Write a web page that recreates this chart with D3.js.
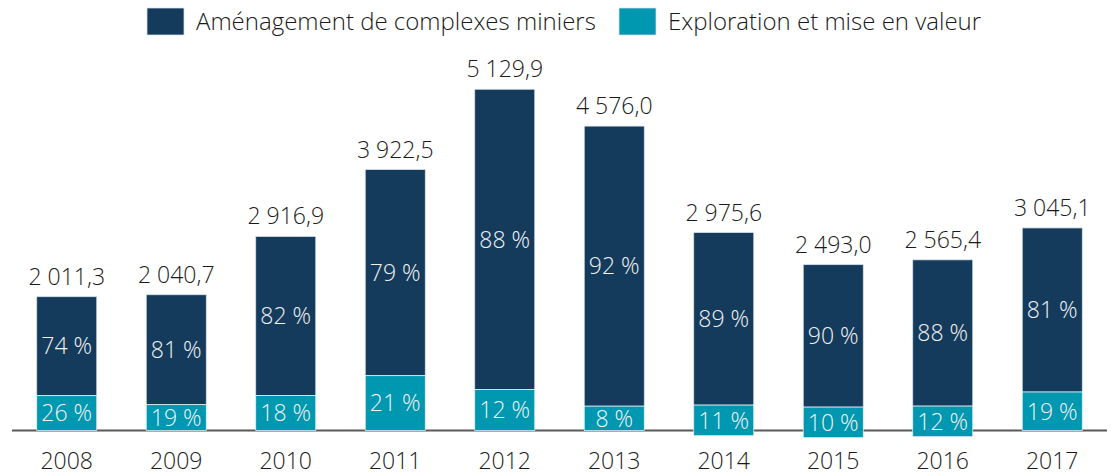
<!DOCTYPE html>
<html lang="fr">
<head>
<meta charset="utf-8">
<script src="https://cdn.jsdelivr.net/npm/d3@7"></script>
<style>
  html, body { margin: 0; padding: 0; background: #fff; }
  svg { display: block; font-family: 'Open Sans', sans-serif; font-weight: 300; }
</style>
</head>
<body>
<svg id="chart" width="1111" height="472"></svg>
<script>
const years = ['2008', '2009', '2010', '2011', '2012', '2013', '2014', '2015', '2016', '2017'];
const totals = [2011.3, 2040.7, 2916.9, 3922.5, 5129.9, 4576.0, 2975.6, 2493.0, 2565.4, 3045.1];
const pctDev = [74, 81, 82, 79, 88, 92, 89, 90, 88, 81];
const pctExplo = [26, 19, 18, 21, 12, 8, 11, 10, 12, 19];
// in the source picture the small exploration blocks were stretched below the axis (M$)
const exploDrawnFrom = [0, 0, 0, 0, 0, 0, -78, -108, -93, 0];
const exploMinDrawn = 460;
const seriesNames = ['Aménagement de complexes miniers', 'Exploration et mise en valeur'];

const darkBlue = '#143b5c',
      teal = '#0097b0';

const fr = d3.formatLocale({decimal: ',', thousands: ' ', grouping: [3], currency: ['', ' $']});
const fmt = fr.format(',.1f');

const svg = d3.select('#chart');

const x = d3.scaleBand()
  .domain(years)
  .range([12, 1107])
  .paddingInner(0.452)
  .paddingOuter(0.226);

const y = d3.scaleLinear()
  .domain([0, 5200])
  .range([430.5, 84.6]);

const rows = years.map((yr, i) => {
  const exploVal = totals[i] * pctExplo[i] / 100;
  const from = exploDrawnFrom[i];
  const to = from < 0 ? Math.max(exploVal, from + exploMinDrawn) : exploVal;
  return {year: yr, total: totals[i], dev: pctDev[i], explo: pctExplo[i], from, to};
});

// axis line
svg.append('line')
  .attr('x1', x.range()[0])
  .attr('x2', x.range()[1])
  .attr('y1', y(0))
  .attr('y2', y(0))
  .attr('stroke', '#595959')
  .attr('stroke-width', 2);

const bars = svg.append('g')
  .selectAll('g')
  .data(rows)
  .join('g');

bars.append('rect')
  .attr('x', d => x(d.year))
  .attr('width', x.bandwidth())
  .attr('y', d => y(d.total))
  .attr('height', d => y(d.to) - y(d.total))
  .attr('fill', darkBlue)
  .attr('stroke', '#d9e1ea')
  .attr('stroke-width', 0.75);

bars.append('rect')
  .attr('x', d => x(d.year))
  .attr('width', x.bandwidth())
  .attr('y', d => y(d.to))
  .attr('height', d => y(d.from) - y(d.to))
  .attr('fill', teal)
  .attr('stroke', '#e6f3f6')
  .attr('stroke-width', 0.75);

bars.append('text')
  .attr('x', d => x(d.year) + x.bandwidth() / 2)
  .attr('y', d => (y(d.total) + y(d.to)) / 2)
  .attr('dy', '0.36em')
  .attr('text-anchor', 'middle')
  .attr('fill', '#f2f2f2')
  .attr('font-size', 23)
  .text(d => `${d.dev} %`);

bars.append('text')
  .attr('x', d => x(d.year) + x.bandwidth() / 2)
  .attr('y', d => (y(d.to) + y(d.from)) / 2)
  .attr('dy', '0.36em')
  .attr('text-anchor', 'middle')
  .attr('fill', '#f2f2f2')
  .attr('font-size', 23)
  .text(d => `${d.explo} %`);

bars.append('text')
  .attr('x', d => x(d.year) + x.bandwidth() / 2)
  .attr('y', d => y(d.total) - 12)
  .attr('text-anchor', 'middle')
  .attr('fill', '#1a1a1a')
  .attr('font-size', 23)
  .text(d => fmt(d.total));

// year labels
svg.append('g')
  .selectAll('text')
  .data(years)
  .join('text')
  .attr('x', d => x(d) + x.bandwidth() / 2)
  .attr('y', 469)
  .attr('text-anchor', 'middle')
  .attr('fill', '#1a1a1a')
  .attr('font-size', 23)
  .text(d => d);

// legend
const legendX = [147, 619];
const legend = svg.append('g')
  .selectAll('g')
  .data(seriesNames)
  .join('g')
  .attr('transform', (d, i) => `translate(${legendX[i]},8)`);

legend.append('rect')
  .attr('width', 37)
  .attr('height', 27)
  .attr('fill', (d, i) => i === 0 ? darkBlue : teal)
  .attr('stroke', '#d9e1ea')
  .attr('stroke-width', 0.75);

legend.append('text')
  .attr('x', 49)
  .attr('y', 13.5)
  .attr('dy', '0.36em')
  .attr('fill', '#1a1a1a')
  .attr('font-size', 24)
  .text(d => d);
</script>
</body>
</html>
